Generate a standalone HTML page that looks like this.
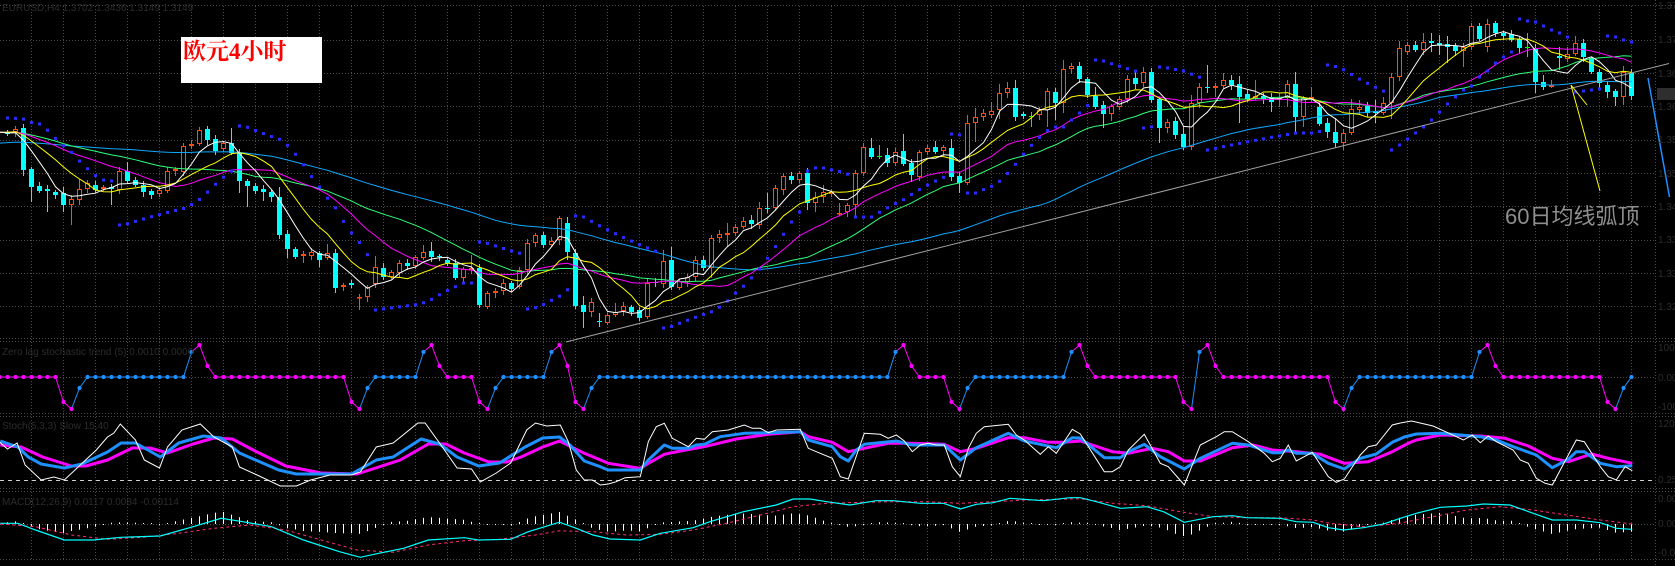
<!DOCTYPE html>
<html><head><meta charset="utf-8">
<style>
html,body{margin:0;padding:0;background:#000;width:1675px;height:566px;overflow:hidden}
svg{display:block}
.ax{font-family:"Liberation Sans",sans-serif;font-size:10px;fill:#2c2c2c}
</style></head>
<body>
<svg id="s" width="1675" height="566" xmlns="http://www.w3.org/2000/svg">
<defs>
<clipPath id="cm"><rect x="0" y="6" width="1655" height="332"/></clipPath>
<clipPath id="c1"><rect x="0" y="342" width="1655" height="71"/></clipPath>
<clipPath id="c2"><rect x="0" y="417" width="1655" height="71"/></clipPath>
<clipPath id="c3"><rect x="0" y="492" width="1655" height="67"/></clipPath>
</defs>
<rect x="0" y="0" width="1675" height="566" fill="#000"/>
<g id="grid"></g>
<g id="p1" clip-path="url(#c1)"></g>
<g id="p2" clip-path="url(#c2)"></g>
<g id="p3" clip-path="url(#c3)"></g>
<g id="mainc" clip-path="url(#cm)"></g>
<g id="over"></g>
<text class="ax" x="2" y="11">EURUSD,H4 1.3702 1.3436 1.3149 1.3149</text>
<text class="ax" x="2" y="355">Zero lag stochastic trend (5) 0.0010 0.0000</text>
<text class="ax" x="2" y="429">Stoch(5,3,3) Slow 15.40</text>
<text class="ax" x="2" y="505">MACD(12,26,9) 0.0117 0.0084 -0.00114</text>
<text class="ax" x="1658" y="9">1.3775</text>
<text class="ax" x="1658" y="43">1.3720</text>
<text class="ax" x="1658" y="77">1.3665</text>
<text class="ax" x="1658" y="110">1.3610</text>
<text class="ax" x="1658" y="143">1.3555</text>
<text class="ax" x="1658" y="177">1.3500</text>
<text class="ax" x="1658" y="210">1.3445</text>
<text class="ax" x="1658" y="243">1.3390</text>
<text class="ax" x="1658" y="277">1.3335</text>
<text class="ax" x="1658" y="310">1.3280</text>
<text class="ax" x="1658" y="351">100</text>
<text class="ax" x="1658" y="381">0.00</text>
<text class="ax" x="1658" y="410">-100</text>
<text class="ax" x="1658" y="427">120</text>
<text class="ax" x="1658" y="483">0.25</text>
<text class="ax" x="1658" y="502">0.00</text>
<text class="ax" x="1658" y="527">0.00</text>
<text class="ax" x="1658" y="556">-0.0</text>
<rect x="1657" y="88" width="18" height="12" fill="#2e2e2e"/>
<rect x="181" y="37" width="141" height="46" fill="#ffffff"/>
<text x="183" y="59" font-family="'Liberation Serif','Noto Serif CJK SC',serif" font-weight="bold" font-size="23" fill="#ff0000">欧元4小时</text>
<text x="1505" y="224" font-family="'Liberation Sans','Noto Sans CJK SC',sans-serif" font-size="22" fill="#8e8e8e">60日均线弧顶</text>
</svg>
<script>
(function(){
const NS='http://www.w3.org/2000/svg';
function el(tag,a,p){const e=document.createElementNS(NS,tag);for(const k in a)e.setAttribute(k,a[k]);p.appendChild(e);return e;}
const X=i=>7.5+8*i;
const G=document.getElementById('grid'),M=document.getElementById('mainc'),O=document.getElementById('over');
const P1=document.getElementById('p1'),P2=document.getElementById('p2'),P3=document.getElementById('p3');
const gc='#4c4c4c';
for(let k=0;k<=50;k++){const x=31.5+32*k;el('line',{x1:x,y1:6,x2:x,y2:560,stroke:gc,'stroke-dasharray':'1,2'},G);}
el('line',{x1:1655.5,y1:0,x2:1655.5,y2:566,stroke:gc,'stroke-dasharray':'1,2'},G);
for(let k=1;k<=9;k++){const y=Math.round(6.5+33.3*k)+0.5;el('line',{x1:0,y1:y,x2:1655,y2:y,stroke:gc,'stroke-dasharray':'1,2'},G);}
[5.5,338.5,341.5,413.5,416.5,488.5,491.5,559.5].forEach(y=>el('line',{x1:0,y1:y,x2:1675,y2:y,stroke:gc,'stroke-dasharray':'1,2'},G));
[377.5,524.5].forEach(y=>el('line',{x1:0,y1:y,x2:1655,y2:y,stroke:gc,'stroke-dasharray':'1,2'},G));

const R=[
[1,132,134],[0,129,132],[1,128,170,0,176],[1,169,187,0,202],[1,186,191,182,193],[1,189,191,0,212],[1,192,195],[1,193,205,187,212],[0,199,205,0,225],[0,189,200,179],
[0,183,189],[1,185,190],[0,187,189],[1,187,189,0,205],[0,171,190],[1,171,181,162],[1,180,185],[1,185,192],[1,191,195],[0,190,194],
[0,171,191],[0,169,171],[0,146,172],[0,144,146],[0,130,144,127],[1,129,140],[1,139,151],[0,143,149],[1,143,153,128],[1,153,181,0,193],
[1,181,186,0,207],[1,186,191],[1,189,192,0,201],[1,192,197],[1,197,235,187],[1,234,249,0,258],[1,249,257],[0,254,256,0,263],[0,252,256],[1,253,260,0,267],
[0,253,258,244],[1,253,288,0,293],[0,285,287],[1,283,285],[0,297,298,294,310],[0,287,297],[0,267,284,256],[1,268,277,263],[0,272,277],[0,263,273],
[1,263,266],[0,257,266],[0,252,258,245],[1,251,257,242],[1,256,257],[1,260,263],[1,263,278],[0,269,278],[0,268,270,255],[1,268,305,0,308],
[0,293,307],[0,291,293],[0,283,291],[1,283,289],[0,270,287],[0,243,270],[0,235,243],[1,235,245],[0,241,245],[0,218,240],
[1,223,252,217,260],[1,253,306],[1,305,312,296,328],[0,302,312,298],[1,321,322,313,327],[0,315,323,0,325],[0,312,315,303],[0,306,311],[1,307,312],[1,310,318],
[0,283,317],[1,282,283,278,287],[0,261,284,250],[1,260,287,247,290],[0,281,288],[0,277,282],[0,260,277],[1,260,268,256],[0,238,268,0,278],[0,234,238,230],
[0,233,235,223,247],[0,227,233],[0,221,227],[1,220,224,215],[0,208,225,202],[1,208,209,193,213],[0,188,208,185],[0,176,190],[1,176,180],[0,173,180,171],
[1,173,203,168,210],[0,197,203,192,212],[0,192,197,185,203],[0,192,194],[0,213,214,203],[0,205,212],[0,173,205,170,217],[0,147,173],[1,148,157,138],[2,156,156,145,159],
[1,155,163,148],[0,152,163,148],[1,151,164,134],[1,163,175,0,182],[0,152,177],[0,148,152],[1,147,152,141],[0,147,151],[1,148,177,139],[1,176,183,0,193],
[0,123,183,115],[0,117,123,108,142],[0,113,117],[0,111,115,102],[0,93,110,84,119],[0,88,93,82],[1,88,117,80],[1,114,116,112,119],[2,116,116,112,127],[0,110,115,107],
[0,91,110,0,127],[1,92,103,0,120],[0,69,103,60,113],[0,66,69,63],[1,66,79],[1,79,95],[1,96,107,87],[1,105,114,0,128],[0,106,114,0,121],[0,99,107],
[0,79,99,0,103],[1,78,84,72],[0,72,83,67],[1,72,100,0,103],[1,99,128,0,143],[0,122,128,119,133],[1,121,135,0,139],[1,134,147,127],[0,103,147,95,150],[0,87,103,83],
[1,87,88,65,93],[0,86,88,83,97],[0,80,86,73],[1,80,85,75],[1,84,97,76,123],[1,94,99],[0,96,98,80],[1,96,99],[1,97,102,0,112],[0,98,100,93,107],
[0,84,98,80,107],[1,84,117,72,133],[0,98,117,0,127],[0,97,99,87],[1,107,124],[1,123,132,118,138],[1,132,143,118,148],[0,133,143,0,150],[0,109,133,99],[0,107,110,100],
[1,106,113],[1,111,113,100,123],[0,103,113,97],[0,77,103,0,119],[0,48,77,41],[0,45,52,42],[1,45,50],[0,42,50,33],[1,41,43,33,52],[1,43,45,35,55],
[1,44,47,36,63],[1,46,51],[0,47,51,43,67],[0,26,47,23],[1,26,39],[0,24,47,19],[1,23,33,21],[1,33,36,31,40],[1,34,40],[1,39,48],
[2,47,47,33,57],[1,48,82,0,93],[1,82,87,75,90],[0,85,87,80,88],[1,56,58,47,70],[0,54,59,47,62],[0,43,54,36],[1,43,57],[1,58,72,57,74],[1,72,83,0,88],
[1,85,92,0,98],[1,91,97,0,106],[0,72,97,66,105],[1,73,96,0,100]
];
const N=R.length;
const HI=[],LO=[];
R.forEach((b,i)=>{HI[i]=b[3]||(b[1]-2-(i%3));LO[i]=b[4]||(b[2]+2+((i*7)%4));});

el('line',{x1:566,y1:342,x2:1669,y2:63.5,stroke:'#a0a0a0','stroke-width':1},O);

R.forEach((b,i)=>{
  const x=X(i),t=b[0],top=b[1],bot=b[2];
  const col=t==0?'#ff4a12':(t==1?'#00ffff':'#00ff00');
  if(HI[i]<top)el('line',{x1:x,y1:HI[i],x2:x,y2:top,stroke:col},M);
  if(LO[i]>bot)el('line',{x1:x,y1:bot,x2:x,y2:LO[i],stroke:col},M);
  if(t==1){el('rect',{x:x-2.5,y:top,width:5,height:Math.max(bot-top,1),fill:col,'shape-rendering':'crispEdges'},M);}
  else if(t==0){el('rect',{x:x-2,y:top+0.5,width:4,height:Math.max(bot-top-1,0.5),fill:'#000',stroke:col,'stroke-width':1},M);}
  else {el('line',{x1:x-2.5,y1:top+0.5,x2:x+2.5,y2:top+0.5,stroke:col},M);}
});

const closes=[];
for(let k=0;k<30;k++)closes.push(160-12*k/29);
for(let k=0;k<30;k++)closes.push(132+2.5*Math.sin(k*0.7));
const W=closes.length;
R.forEach(b=>closes.push(b[0]==0?b[1]:(b[0]==1?b[2]:b[1])));
function sma(n,j){let s=0;for(let k=j-n+1;k<=j;k++)s+=closes[k];return s/n;}
[[60,'#10a8ff'],[30,'#30ff78'],[20,'#ff00ff'],[10,'#ffff00'],[5,'#ffffff']].forEach(([n,c])=>{
  const pts=[];for(let i=-1;i<N;i++){pts.push(X(i).toFixed(1)+','+sma(n,W+i).toFixed(1));}
  el('polyline',{points:pts.join(' '),fill:'none',stroke:c,'stroke-width':1},M);
});

(function(){
  let down=true,af=0.02,sar=118,ep=LO[0];const ps=[sar];
  for(let i=1;i<N;i++){
    sar=sar+af*(ep-sar);
    if(down){
      sar=Math.min(sar,HI[i-1],i>1?HI[i-2]:HI[i-1]);
      if(HI[i]<=sar){down=false;sar=ep;ep=HI[i];af=0.02;}
      else if(LO[i]>ep){ep=LO[i];af=Math.min(af+0.02,0.2);}
    }else{
      sar=Math.max(sar,LO[i-1],i>1?LO[i-2]:LO[i-1]);
      if(LO[i]>=sar){down=true;sar=ep;ep=LO[i];af=0.02;}
      else if(HI[i]<ep){ep=HI[i];af=Math.min(af+0.02,0.2);}
    }
    ps.push(sar);
  }
  const OV={174:145,175:139,176:133,177:127,178:120,179:112,180:104,181:97,182:90,183:86,184:77,185:71,186:63,187:57,188:52,189:19,190:21,191:22,192:26,193:30,194:33,195:37,196:92,197:91,198:90,199:89,200:36,201:37,202:40,203:42};
  for(const k in OV)ps[+k]=OV[k];
  ps.forEach((s,i)=>{el('rect',{x:X(i)-1.5,y:(s-1.5).toFixed(1),width:3,height:3,fill:'#2a2aff'},M);});
})();

el('line',{x1:1571,y1:85,x2:1600,y2:191,stroke:'#ffff00','stroke-width':1},O);
el('line',{x1:1571,y1:85,x2:1587,y2:105,stroke:'#ffff00','stroke-width':1},O);
el('line',{x1:1648,y1:78,x2:1669.5,y2:197,stroke:'#1e90ff','stroke-width':1.5},O);

const LV={P:345,U:352,M:366,Z:377,L:388,D:402,T:409};
const EV={7:'Dm',8:'Tm',9:'Lb',23:'Ub',24:'Pm',25:'Mm',43:'Dm',44:'Tm',45:'Lb',52:'Ub',53:'Pm',54:'Mm',59:'Dm',60:'Tm',61:'Lb',68:'Ub',69:'Pm',70:'Mm',71:'Dm',72:'Tm',73:'Lb',111:'Ub',112:'Pm',113:'Mm',118:'Dm',119:'Tm',120:'Lb',133:'Ub',134:'Pm',135:'Mm',147:'Dm',148:'Tm',149:'Ub',150:'Pm',151:'Mm',166:'Dm',167:'Tm',168:'Lb',184:'Ub',185:'Pm',186:'Mm',200:'Dm',201:'Tm',202:'Lb'};
const C1={m:'#ff00ff',b:'#1e90ff'};
let cc='m';const vy=[],vc=[];
for(let i=-1;i<N;i++){let y=LV.Z;if(EV[i]){y=LV[EV[i][0]];cc=EV[i][1];}vy.push(y);vc.push(cc);}
for(let k=1;k<vy.length;k++){el('line',{x1:X(k-2),y1:vy[k-1],x2:X(k-1),y2:vy[k],stroke:C1[vc[k]],'stroke-width':1},P1);}
for(let k=0;k<vy.length;k++){el('circle',{cx:X(k-1),cy:vy[k],r:2.1,fill:C1[vc[k]]},P1);}

el('line',{x1:0,y1:480.5,x2:1655,y2:480.5,stroke:'#d0d0d0','stroke-dasharray':'4,4'},P2);
const WT=[[-1,442],[0,449],[1.2,443],[2.2,465],[4.2,480],[5.8,477],[7.1,480],[9.1,465],[11.1,450],[12.5,437],[13.3,433],[14.1,424],[16,440],[17.1,460],[19,468],[20,447],[21.8,430],[24.1,424],[25.8,437],[28.1,447],[29,467],[31.2,475],[34.1,486],[36.1,486],[37.9,480],[40.3,475],[43,475],[44.1,472],[46.1,447],[48.2,443],[51.3,423],[52.2,423],[54,443],[56.2,468],[58,469],[59.1,482],[61.1,473],[62.9,463],[64.9,430],[66,423],[67.4,426],
[69.1,425],[70.1,441.7],[71.1,470],[72.1,480],[73.1,480],[74.1,485],[75.1,484],[76.1,481.7],[77.2,477.7],[79.1,476.7],[80.1,441.7],[81.1,426.7],[82.1,423.3],[83.1,438.3],[85.1,446.7],[86.1,438.3],[87.1,439.3],[88.1,431.7],[90.1,430],[92.1,425],[93.1,428.3],[94.1,428.3],[95.1,432.7],[96.1,430],[99.1,429.3],[100.1,448.3],[101.1,451.7],[103.1,458.3],[104.1,476.7],[105.1,479],[107.1,433.3],[109.1,434.3],[110.1,438.3],[111.1,435],[112.1,441],[113.1,451.7],[114.1,445],[115.1,443.3],[116.1,445],[117.1,445],[118.1,466.7],[119.1,476.7],[120.1,448.3],[121.1,433.3],[122.1,426.7],[125.1,424.3],[126.1,435],[127.1,440],[129.1,454.3],[130.1,446.7],[131.1,453.3],[133.1,429.3],[134.1,434],
[137.1,471.7],[138.1,471.7],[139.1,466.7],[140.1,450],[142.1,434.3],[144.1,463.3],[145.1,466.7],[147.1,485],[149.1,445],[151.1,436.7],[152.1,431.7],[153.1,431.7],[155.1,441.7],[157.1,453.3],[158.1,461.7],[159.1,458.3],[160.1,445],[161.1,461],[163.1,452.3],[165.1,476.7],[166.1,482.3],[167.1,479],[169.1,455],[170.1,446.7],[171.1,445],[173.1,425],[174.1,423],[175.5,421],[178.2,426],[182,440],[183.1,435],[184.1,442.7],[185.1,436],[186.1,441.7],[188.2,450],[189.1,460],[190.1,463.3],[191.1,478.3],[192.2,483.3],[193.1,485],[196.1,440],[197.1,441.7],[199.1,466.7],[200.1,476.7],[201.1,480],[202.2,466.7],[203.1,470.7]];
const BL=[[-0.9,441],[1.3,447],[2.6,457],[4.2,464],[7.1,468],[9.3,464],[12.5,452],[14.2,443],[16,443],[19.1,457],[21.4,443],[24.5,436],[26.7,438],[29,453],[33.9,470],[36.1,474],[43,474],[46.1,460],[48.2,457],[51.7,439],[54,444],[56.2,457],[58.9,466],[61.5,463],[64.7,447],[66.9,438],[69,437],
[70.3,445],[72.1,461],[74.1,466.7],[75.1,470],[79.1,470],[80.1,460],[82.1,445],[83.1,448.3],[85.1,448.3],[86.1,445],[87.1,444.3],[89.1,436.7],[92.1,433.3],[95.1,432.7],[99.1,431.7],[100.1,440],[103.1,446.7],[104.1,456.7],[105.1,461],[106.1,450],[107.1,444.3],[111.1,441],[113.1,445],[117.1,445],[119.1,460],[121.1,447.7],[125.1,433.3],[127.1,441],[129.1,444.3],[131.1,447.7],[133.1,437.7],[134.1,438],
[137.1,457.7],[139.1,457.7],[140.1,451.7],[142.1,444.3],[144.1,456.7],[147.1,469],[149.1,458.3],[153.1,443.3],[155.1,445],[158.1,452.7],[159.1,452.7],[160.1,450],[161.1,453.3],[163.1,453.3],[165.1,463.3],[167.1,469],[169.1,458.3],[171.1,454],[173.1,442.3],[174.6,437],[176.1,434],[179.1,433.3],[184.1,436.7],[186.1,440],[188.2,446.7],[191.1,455],[193.1,467.7],[195.1,459.3],[196.1,451.7],[197.1,451.7],[199.1,463.3],[201.1,466.7],[203.1,465.7]];
const MG=[[-0.9,445],[1.7,447],[4.4,457],[8,466],[9.8,466],[12.5,460],[15.6,448],[17.8,448],[20,453],[23.2,444],[25.8,438],[28.1,439],[31.2,452],[34.8,466],[39.2,473],[43.7,474],[46.4,467],[49.1,460],[52.6,444],[54.8,444],[57.1,453],[60.2,462],[62.4,462],[64.2,457],[66.9,447],[69,441],
[72.1,453.3],[75.1,463.3],[79.1,468.3],[80.1,463.3],[82.1,454.3],[84.1,451],[87.1,446.7],[91.1,439],[95.1,434.3],[99.1,431.7],[100.1,436.7],[103.1,442.3],[105.1,451.7],[107.1,448.3],[110.1,443.3],[113.1,443.3],[117.1,444.3],[119.1,451.7],[121.1,448.3],[125.1,437.7],[127.1,437.7],[130.1,442.3],[132.1,442.3],[134.1,441],
[138.1,451.7],[140.1,453.3],[143.1,448.3],[145.1,451.7],[147.1,461],[149.1,461],[153.1,447.7],[155.7,445],[158.1,450],[161.1,451.7],[164.1,454.3],[167.1,463.3],[170.1,461.7],[173.1,451.7],[175.1,443.3],[176.1,440],[179.1,435],[184.1,436],[187.2,438.3],[190.1,446],[193.1,458.3],[195.1,461.7],[198,454],[200.1,458.3],[203.1,463.3]];
function pl(arr){return arr.slice().sort((a,b)=>a[0]-b[0]).map(p=>X(p[0]).toFixed(1)+','+p[1]).join(' ');}
el('polyline',{points:pl(MG),fill:'none',stroke:'#ff00ff','stroke-width':3,'stroke-linejoin':'round'},P2);
el('polyline',{points:pl(BL),fill:'none',stroke:'#1e90ff','stroke-width':3,'stroke-linejoin':'round'},P2);
el('polyline',{points:pl(WT),fill:'none',stroke:'#ffffff','stroke-width':1},P2);

const CY=[[-0.9,523.3],[1.3,523.3],[3.5,530],[7.1,540],[10.7,540],[14.2,537.3],[19.1,536],[23.2,526.7],[26.7,518.3],[29.4,521.7],[33,526.7],[37,540],[41.5,551.7],[44.1,557.3],[46.4,553.3],[49.5,548.3],[52.6,540],[57.1,537.7],[58.9,540],[62.9,539.3],[65.1,531.7],[69,522.2],
[71.1,528.3],[73.2,535],[75.3,539],[79.1,540],[81.6,533.3],[85.7,527.7],[87.8,521.7],[92,511.7],[96.1,505],[98.2,499],[100.3,499],[102.4,501.7],[105.3,505],[108.6,500.7],[110.7,500.7],[114.1,503.3],[117,503.3],[119.1,509],[121.1,504.3],[123.2,502.7],[125.3,498.3],[129.5,500.7],[132.8,497.7],[134.1,497.7],
[136.1,501.7],[139.1,508.3],[142.4,506.7],[144.5,511.7],[147.1,522.3],[150.7,516.7],[153.1,515.7],[154.9,517.7],[159.1,518.3],[161.1,521.7],[163.2,522.3],[165.1,527.7],[167,530],[169.5,527.7],[172,524],[174.1,518.3],[176.1,513.3],[179.1,507.3],[182.4,506],[184.5,504],[187.8,505],[190.7,513.3],[193.1,520],[196.1,520],[199.1,522.7],[201.1,528.3],[203.1,529.3]];
const SG=[[-0.9,524],[3.5,526.7],[8,535],[12.5,539.3],[16.9,537.3],[21.4,533.3],[25.8,528.3],[30.3,525],[34.8,530],[39.2,540],[43.7,550],[48.2,552.3],[52.6,545],[57.1,540.7],[61.5,539.3],[66,535],[69,530.8],
[73.2,531.7],[77.4,535],[81.6,534.3],[85.7,530],[89.9,523.3],[94.1,515],[98.2,506.7],[102.4,503.3],[106.6,502.3],[110.7,501.7],[114.9,501.7],[119.1,503.3],[123.2,501.7],[127.4,500],[134.1,498.7],
[138.2,503.3],[142.4,505.7],[146.6,511.7],[150.7,516.7],[154.9,517.7],[159.1,517.7],[163.2,520],[165.3,523.3],[169.5,526.7],[172,525],[174.1,523],[178.2,516.7],[182.4,510],[186.6,506.7],[190.7,510],[194.9,515],[199.1,520],[203.1,524]];
function interp(arr,b){const a=arr.slice().sort((p,q)=>p[0]-q[0]);if(b<=a[0][0])return a[0][1];for(let k=1;k<a.length;k++){if(b<=a[k][0]){const t=(b-a[k-1][0])/(a[k][0]-a[k-1][0]);return a[k-1][1]+t*(a[k][1]-a[k-1][1]);}}return a[a.length-1][1];}
for(let i=0;i<N;i++){
  let h=(interp(CY,i)-interp(SG,i))*1.4;h=Math.max(-12,Math.min(12,h));
  if(Math.abs(h)<1)h=h<0?-1:1;
  el('line',{x1:X(i),y1:524,x2:X(i),y2:(524+h).toFixed(1),stroke:'#ffffff','stroke-width':1},P3);
}
el('polyline',{points:pl(SG),fill:'none',stroke:'#ff3070','stroke-width':1,'stroke-dasharray':'3,3'},P3);
el('polyline',{points:pl(CY),fill:'none',stroke:'#00ffff','stroke-width':1.2},P3);
})();
</script>
</body></html>
